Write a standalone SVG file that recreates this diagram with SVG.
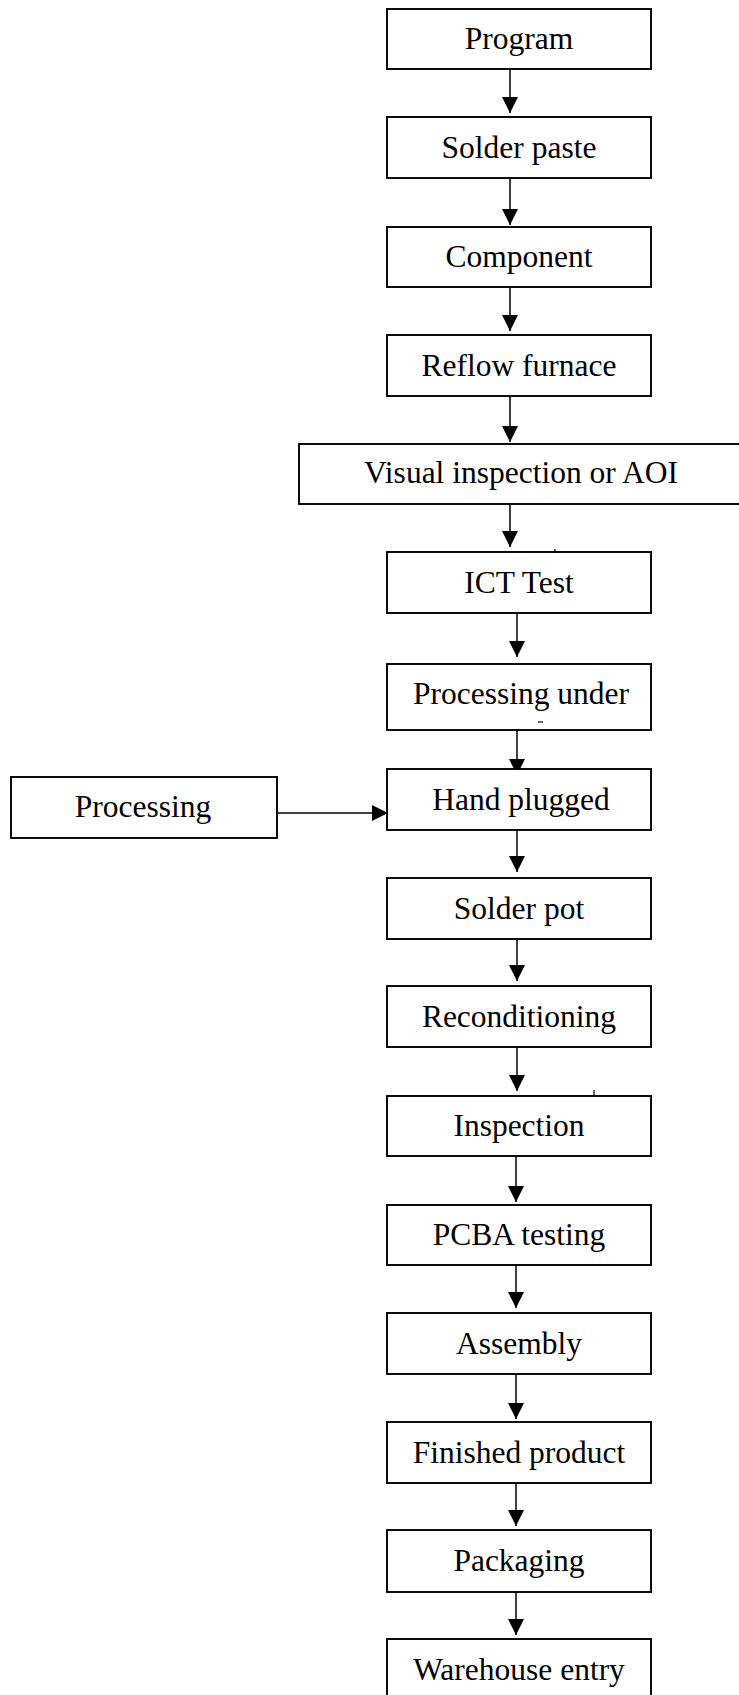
<svg xmlns="http://www.w3.org/2000/svg" width="739" height="1695" viewBox="0 0 739 1695">
<style>
.box{fill:#fff;stroke:#000;stroke-width:1.9}
.lbl{font-family:"Liberation Serif","Times New Roman",serif;font-size:31.5px;fill:#000;text-anchor:middle}
.arr{stroke:#000;stroke-width:1.5;fill:none;marker-end:url(#ah)}
.tick{stroke:#000;stroke-width:1.2}
</style>
<defs>
<marker id="ah" markerUnits="userSpaceOnUse" viewBox="0 0 16 16" markerWidth="16" markerHeight="16" refX="16" refY="8" orient="auto">
<path d="M0,0 L16,8 L0,16 z" fill="#000"/>
</marker>
</defs>
<rect width="739" height="1695" fill="#fff"/>
<g id="connectors">
<line class="arr" x1="510" y1="69" x2="510" y2="113"/>
<line class="arr" x1="510" y1="179" x2="510" y2="225"/>
<line class="arr" x1="510" y1="287" x2="510" y2="331"/>
<line class="arr" x1="510" y1="397" x2="510" y2="442"/>
<line class="arr" x1="510" y1="505" x2="510" y2="547"/>
<line class="arr" x1="517" y1="613" x2="517" y2="657"/>
<line class="arr" x1="517" y1="730" x2="517" y2="775"/>
<line class="arr" x1="517" y1="830" x2="517" y2="872"/>
<line class="arr" x1="517" y1="939" x2="517" y2="981"/>
<line class="arr" x1="517" y1="1047" x2="517" y2="1091"/>
<line class="arr" x1="516" y1="1157" x2="516" y2="1202"/>
<line class="arr" x1="516" y1="1265" x2="516" y2="1308"/>
<line class="arr" x1="516" y1="1375" x2="516" y2="1419"/>
<line class="arr" x1="516" y1="1483" x2="516" y2="1526"/>
<line class="arr" x1="516" y1="1592" x2="516" y2="1635"/>
<line class="arr" x1="277" y1="813" x2="388" y2="813"/>
</g>
<g id="n-program"><rect class="box" x="387" y="9" width="264" height="60"/><text class="lbl" x="519" y="49">Program</text></g>
<g id="n-solder-paste"><rect class="box" x="387" y="117" width="264" height="61"/><text class="lbl" x="519" y="158">Solder paste</text></g>
<g id="n-component"><rect class="box" x="387" y="227" width="264" height="60"/><text class="lbl" x="519" y="267">Component</text></g>
<g id="n-reflow"><rect class="box" x="387" y="335" width="264" height="61"/><text class="lbl" x="519" y="376">Reflow furnace</text></g>
<g id="n-visual"><rect class="box" x="299" y="444" width="450" height="60"/><text class="lbl" x="521" y="483">Visual inspection or AOI</text></g>
<g id="n-ict"><rect class="box" x="387" y="552" width="264" height="61"/><text class="lbl" x="519" y="593">ICT Test</text><line class="tick" x1="555" y1="549" x2="555" y2="553"/></g>
<g id="n-proc-under"><rect class="box" x="387" y="664" width="264" height="66"/><text class="lbl" x="521" y="704">Processing under</text><line class="tick" x1="538" y1="722" x2="543" y2="722"/></g>
<g id="n-hand"><rect class="box" x="387" y="769" width="264" height="61"/><text class="lbl" x="521" y="810">Hand plugged</text></g>
<g id="n-processing"><rect class="box" x="11" y="777" width="266" height="61"/><text class="lbl" x="143" y="817">Processing</text></g>
<g id="n-solder-pot"><rect class="box" x="387" y="878" width="264" height="61"/><text class="lbl" x="519" y="919">Solder pot</text></g>
<g id="n-recond"><rect class="box" x="387" y="986" width="264" height="61"/><text class="lbl" x="519" y="1027">Reconditioning</text></g>
<g id="n-inspection"><rect class="box" x="387" y="1096" width="264" height="60"/><text class="lbl" x="519" y="1136">Inspection</text><line class="tick" x1="594" y1="1090" x2="594" y2="1096"/></g>
<g id="n-pcba"><rect class="box" x="387" y="1205" width="264" height="60"/><text class="lbl" x="519" y="1245">PCBA testing</text></g>
<g id="n-assembly"><rect class="box" x="387" y="1313" width="264" height="61"/><text class="lbl" x="519" y="1354">Assembly</text></g>
<g id="n-finished"><rect class="box" x="387" y="1422" width="264" height="61"/><text class="lbl" x="519" y="1463">Finished product</text></g>
<g id="n-packaging"><rect class="box" x="387" y="1530" width="264" height="62"/><text class="lbl" x="519" y="1571">Packaging</text></g>
<g id="n-warehouse"><rect class="box" x="387" y="1639" width="264" height="62"/><text class="lbl" x="519" y="1680">Warehouse entry</text></g>
</svg>
